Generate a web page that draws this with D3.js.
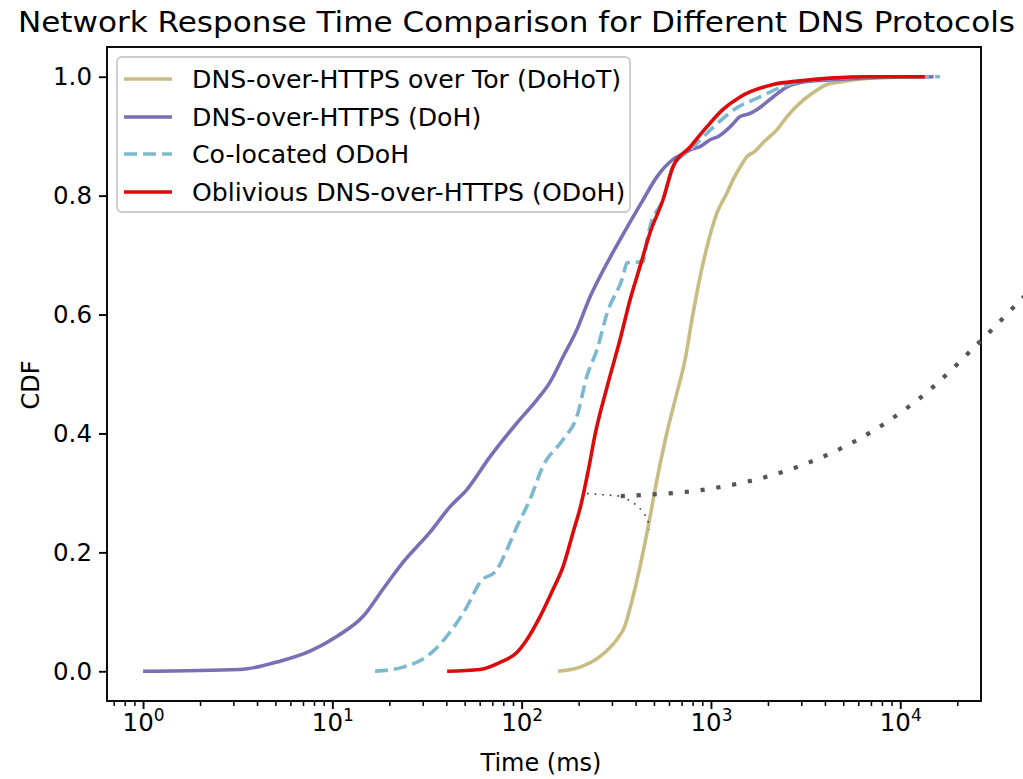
<!DOCTYPE html>
<html>
<head>
<meta charset="utf-8">
<script src="https://cdn.jsdelivr.net/npm/d3@7"></script>
<style>
  html, body { margin: 0; padding: 0; background: #fff; }
  svg { display: block; font-family: "DejaVu Sans", sans-serif; }
</style>
</head>
<body>
<svg id="chart" width="1023" height="779"></svg>
<script>
// ---------------- data ----------------
const seriesNames = ["DNS-over-HTTPS over Tor (DoHoT)", "DNS-over-HTTPS (DoH)", "Co-located ODoH", "Oblivious DNS-over-HTTPS (ODoH)"];
const seriesColors = ["#c9bc82", "#7a6fb5", "#7cb9cf", "#dd0a0a"];

const dohotTime = [155.7, 203.6, 259.6, 319, 350, 380, 422, 460, 519, 586, 662, 730, 794, 855, 953, 1076, 1217, 1309, 1450, 1552, 1700, 1884, 2234, 2523, 2956, 3461, 4103, 4987, 6680, 9977, 12700];
const dohotCdf  = [0, 0.007, 0.025, 0.054, 0.075, 0.115, 0.176, 0.234, 0.323, 0.402, 0.469, 0.524, 0.592, 0.647, 0.714, 0.771, 0.805, 0.827, 0.852, 0.866, 0.874, 0.889, 0.911, 0.933, 0.956, 0.973, 0.987, 0.992, 0.997, 1.0, 1.0];

const dohTime = [1.0, 3.25, 5.29, 7.62, 10.6, 14.5, 18.5, 23.6, 32.8, 41.9, 51.5, 68.1, 94.6, 120.6, 141, 165.5, 196, 230, 250, 331, 438, 519, 631, 700, 776, 880, 990, 1100, 1217, 1300, 1425, 1600, 1753, 2130, 2523, 3220, 4420, 6680, 15000];
const dohCdf  = [0, 0.003, 0.017, 0.034, 0.059, 0.092, 0.138, 0.183, 0.234, 0.277, 0.306, 0.361, 0.418, 0.457, 0.486, 0.529, 0.575, 0.630, 0.654, 0.726, 0.793, 0.832, 0.861, 0.869, 0.877, 0.883, 0.894, 0.900, 0.911, 0.920, 0.933, 0.938, 0.945, 0.966, 0.983, 0.992, 0.995, 0.998, 1.0];

const coTime = [16.8, 23.6, 31.6, 41.9, 51.5, 60.3, 74.1, 83.7, 94.6, 110.7, 129.7, 165.5, 196, 221, 250, 283, 343, 360, 438, 460, 477, 558, 631, 776, 953, 1374, 1816, 2317, 2956, 4420, 6920, 16200];
const coCdf  = [0, 0.007, 0.025, 0.066, 0.109, 0.150, 0.171, 0.205, 0.244, 0.289, 0.345, 0.390, 0.429, 0.496, 0.541, 0.603, 0.664, 0.687, 0.689, 0.726, 0.748, 0.793, 0.849, 0.877, 0.905, 0.948, 0.966, 0.982, 0.992, 0.997, 1.0, 1.0];

const odohTime = [40.4, 60.3, 76.9, 94.6, 106.9, 125.1, 146.6, 165.5, 187, 205, 224, 245, 283, 331, 374, 422, 477, 558, 631, 776, 953, 1158, 1425, 2130, 2956, 4420, 6680, 13500];
const odohCdf  = [0, 0.003, 0.015, 0.032, 0.054, 0.092, 0.138, 0.176, 0.234, 0.278, 0.335, 0.400, 0.479, 0.558, 0.625, 0.681, 0.738, 0.793, 0.849, 0.882, 0.916, 0.945, 0.966, 0.987, 0.993, 0.998, 1.0, 1.0];

// annotation (zoom connector) in data units
const arcTime = [333.9, 886.8, 2290, 5612, 12616, 25670, 43840, 51520];
const arcCdf  = [0.2946, 0.3047, 0.3333, 0.3849, 0.4588, 0.5508, 0.6264, 0.6487];
const connATime = [221.6, 333.9];
const connACdf  = [0.299, 0.2946];
const connBTime = [333.9, 386, 422, 461.5, 472.8];
const connBCdf  = [0.2946, 0.284, 0.2734, 0.2555, 0.2387];

const xTickValues = [1, 10, 100, 1000, 10000];
const xTickExponents = ["0", "1", "2", "3", "4"];
const yTickValues = [0, 0.2, 0.4, 0.6, 0.8, 1.0];
const yTickLabels = ["0.0", "0.2", "0.4", "0.6", "0.8", "1.0"];

const titleText = "Network Response Time Comparison for Different DNS Protocols";
const xLabel = "Time (ms)";
const yLabel = "CDF";

// ---------------- layout ----------------
const svg = d3.select("#chart");
svg.append("rect").attr("width", 1023).attr("height", 779).attr("fill", "#fff");

const L = 107, R = 981, T = 47, B = 701;
const x = d3.scaleLog().domain([0.645, 26700]).range([L, R]);
const y = d3.scaleLinear().domain([-0.05, 1.05]).range([B, T]);

const toPts = (ts, cs) => ts.map((t, i) => [t, cs[i]]);
const line = d3.line().x(d => x(d[0])).y(d => y(d[1]));
const smoothLine = d3.line().x(d => x(d[0])).y(d => y(d[1])).curve(d3.curveMonotoneX);

const series = [
  { pts: toPts(dohotTime, dohotCdf), color: seriesColors[0], dash: null },
  { pts: toPts(dohTime, dohCdf), color: seriesColors[1], dash: null },
  { pts: toPts(coTime, coCdf), color: seriesColors[2], dash: "13,6" },
  { pts: toPts(odohTime, odohCdf), color: seriesColors[3], dash: null }
];

// ---------------- axes ----------------
const yAxis = d3.axisLeft(y).tickValues(yTickValues).tickSize(8)
  .tickFormat((d, i) => yTickLabels[i]).tickPadding(7);
const gy = svg.append("g").attr("transform", `translate(${L},0)`).call(yAxis);
gy.select(".domain").remove();
gy.selectAll(".tick line").attr("stroke", "#000").attr("stroke-width", 1.9);
gy.selectAll(".tick text").attr("font-size", 24.5).attr("fill", "#000")
  .attr("font-family", "DejaVu Sans");

// x minor ticks
const minor = [];
for (let e = -1; e <= 4; e++) {
  for (let m = 2; m <= 9; m++) {
    const v = m * Math.pow(10, e);
    if (v >= x.domain()[0] && v <= x.domain()[1]) minor.push(v);
  }
}
const gxm = svg.append("g").attr("transform", `translate(0,${B})`)
  .call(d3.axisBottom(x).tickValues(minor).tickSize(5).tickFormat(""));
gxm.select(".domain").remove();
gxm.selectAll(".tick line").attr("stroke", "#000").attr("stroke-width", 1.5);

const gx = svg.append("g").attr("transform", `translate(0,${B})`)
  .call(d3.axisBottom(x).tickValues(xTickValues).tickSize(8).tickFormat(""));
gx.select(".domain").remove();
gx.selectAll(".tick line").attr("stroke", "#000").attr("stroke-width", 1.9);
gx.selectAll(".tick").each(function(d, i) {
  const t = d3.select(this).append("text")
    .attr("y", 30).attr("text-anchor", "middle").attr("fill", "#000")
    .attr("font-family", "DejaVu Sans").attr("font-size", 24.5);
  t.append("tspan").text("10");
  t.append("tspan").attr("dy", -10).attr("font-size", 17).text(xTickExponents[i]);
});

// ---------------- data lines ----------------
const gLines = svg.append("g");
series.forEach(s => {
  gLines.append("path").datum(s.pts).attr("d", smoothLine)
    .attr("fill", "none").attr("stroke", s.color).attr("stroke-width", 3.6)
    .attr("stroke-linejoin", "round")
    .attr("stroke-dasharray", s.dash);
});

// ---------------- frame ----------------
svg.append("rect").attr("x", L).attr("y", T).attr("width", R - L).attr("height", B - T)
  .attr("fill", "none").attr("stroke", "#000").attr("stroke-width", 1.9);

// ---------------- annotation ----------------
const curveLine = d3.line().x(d => x(d[0])).y(d => y(d[1])).curve(d3.curveCatmullRom);
svg.append("path").datum(toPts(connATime, connACdf)).attr("d", line)
  .attr("fill", "none").attr("stroke", "#333").attr("stroke-width", 1.6)
  .attr("stroke-dasharray", "1.6,6");
svg.append("path").datum(toPts(connBTime, connBCdf)).attr("d", curveLine)
  .attr("fill", "none").attr("stroke", "#333").attr("stroke-width", 1.6)
  .attr("stroke-dasharray", "1.6,6");
svg.append("path").datum(toPts(arcTime, arcCdf)).attr("d", curveLine)
  .attr("fill", "none").attr("stroke", "#555").attr("stroke-width", 4.2)
  .attr("stroke-dasharray", "4.2,11.8");

// ---------------- legend ----------------
const lg = svg.append("g");
lg.append("rect").attr("x", 117).attr("y", 57).attr("width", 513).attr("height", 155)
  .attr("rx", 5).attr("fill", "#fff").attr("fill-opacity", 0.8)
  .attr("stroke", "#cccccc").attr("stroke-width", 1.9);
const rowY = [79, 117, 154, 192];
seriesNames.forEach((name, i) => {
  lg.append("line").attr("x1", 124).attr("x2", 172).attr("y1", rowY[i]).attr("y2", rowY[i])
    .attr("stroke", series[i].color).attr("stroke-width", 3.6)
    .attr("stroke-dasharray", series[i].dash);
  lg.append("text").attr("x", 192).attr("y", rowY[i] + 9)
    .attr("font-size", 25.2).attr("fill", "#000").text(name);
});

// ---------------- titles ----------------
svg.append("text").attr("x", 18).attr("y", 32).attr("font-size", 28)
  .attr("textLength", 997).attr("lengthAdjust", "spacingAndGlyphs")
  .attr("fill", "#000").text(titleText);
svg.append("text").attr("x", (L + R) / 2 - 3).attr("y", 771).attr("text-anchor", "middle")
  .attr("font-size", 24).attr("fill", "#000").text(xLabel);
svg.append("text").attr("transform", "translate(39,385) rotate(-90)")
  .attr("text-anchor", "middle").attr("font-size", 24).attr("fill", "#000").text(yLabel);
</script>
</body>
</html>
